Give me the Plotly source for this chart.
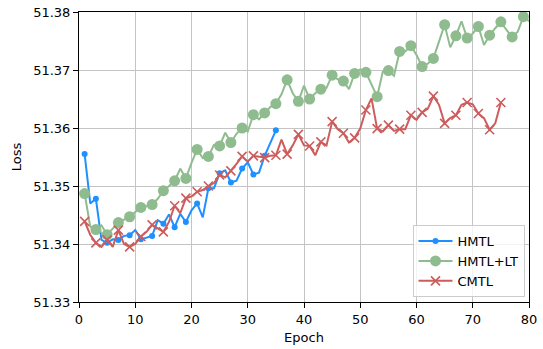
import plotly.graph_objects as go

# ---- data ----
hmtl_epochs = list(range(1, 36))
hmtl_loss = [51.3555, 51.3470, 51.3478, 51.3407, 51.3402, 51.3408, 51.3407, 51.3414, 51.3415, 51.3424,
             51.3408, 51.3411, 51.3414, 51.3441, 51.3435, 51.3451, 51.3429, 51.3452, 51.3438, 51.3458,
             51.3470, 51.3446, 51.3496, 51.3496, 51.3522, 51.3527, 51.3506, 51.3509, 51.3530, 51.3541,
             51.3520, 51.3523, 51.3552, 51.3574, 51.3596]

hmtl_lt_epochs = list(range(1, 81))
hmtl_lt_loss = [51.3487, 51.3430, 51.3425, 51.3432, 51.3416, 51.3427, 51.3437, 51.3442, 51.3447, 51.3455,
                51.3463, 51.3465, 51.3468, 51.3478, 51.3492, 51.3500, 51.3509, 51.3530, 51.3513, 51.3540,
                51.3563, 51.3548, 51.3551, 51.3571, 51.3569, 51.3592, 51.3575, 51.3590, 51.3600, 51.3594,
                51.3623, 51.3615, 51.3626, 51.3636, 51.3642, 51.3658, 51.3683, 51.3660, 51.3646, 51.3673,
                51.3650, 51.3660, 51.3667, 51.3669, 51.3691, 51.3684, 51.3681, 51.3667, 51.3694, 51.3701,
                51.3696, 51.3675, 51.3654, 51.3697, 51.3699, 51.3690, 51.3732, 51.3732, 51.3742, 51.3726,
                51.3706, 51.3711, 51.3720, 51.3749, 51.3778, 51.3739, 51.3759, 51.3784, 51.3755, 51.3763,
                51.3775, 51.3743, 51.3760, 51.3772, 51.3783, 51.3769, 51.3757, 51.3766, 51.3792, 51.3784]

cmtl_epochs = list(range(1, 76))
cmtl_loss = [51.3439, 51.3416, 51.3402, 51.3395, 51.3407, 51.3395, 51.3424, 51.3400, 51.3395, 51.3400,
             51.3413, 51.3421, 51.3433, 51.3427, 51.3421, 51.3438, 51.3466, 51.3453, 51.3479, 51.3482,
             51.3490, 51.3493, 51.3500, 51.3505, 51.3519, 51.3515, 51.3526, 51.3538, 51.3551, 51.3542,
             51.3552, 51.3550, 51.3549, 51.3552, 51.3553, 51.3580, 51.3555, 51.3570, 51.3589, 51.3570,
             51.3569, 51.3553, 51.3576, 51.3570, 51.3611, 51.3598, 51.3591, 51.3575, 51.3583, 51.3599,
             51.3631, 51.3651, 51.3599, 51.3594, 51.3605, 51.3595, 51.3598, 51.3598, 51.3622, 51.3614,
             51.3627, 51.3633, 51.3655, 51.3640, 51.3608, 51.3617, 51.3622, 51.3640, 51.3644, 51.3641,
             51.3625, 51.3617, 51.3597, 51.3608, 51.3644]

x_ticks = [0, 10, 20, 30, 40, 50, 60, 70, 80]
y_ticks = [51.33, 51.34, 51.35, 51.36, 51.37, 51.38]

series = [
    ("HMTL", hmtl_epochs, hmtl_loss, "#1E90FF", dict(symbol="circle", size=6)),
    ("HMTL+LT", hmtl_lt_epochs, hmtl_lt_loss, "#8FBC8F", dict(symbol="circle", size=11)),
    ("CMTL", cmtl_epochs, cmtl_loss, "#CD5C5C", dict(symbol="x-thin", size=9)),
]

fig = go.Figure()
for name, xs, ys, color, mk in series:
    mk_full = dict(mk, color=color, line=dict(color=color, width=1.6 if mk["symbol"] == "x-thin" else 0))
    fig.add_trace(go.Scatter(x=xs, y=ys, mode="lines", line=dict(color=color, width=2),
                             showlegend=False, legendgroup=name, hoverinfo="skip"))
    fig.add_trace(go.Scatter(x=xs[::2], y=ys[::2], mode="markers", marker=mk_full,
                             showlegend=False, legendgroup=name))
    fig.add_trace(go.Scatter(x=[None], y=[None], mode="lines+markers", name=name,
                             line=dict(color=color, width=2), marker=mk_full, legendgroup=name))

font = "DejaVu Sans"
axis_common = dict(showline=True, linecolor="black", linewidth=1, mirror=True,
                   ticks="outside", ticklen=5, tickcolor="black", tickwidth=1,
                   showgrid=True, gridcolor="#c4c4c4", gridwidth=1, zeroline=False,
                   automargin=False,
                   tickfont=dict(family=font, size=13, color="black"))

fig.update_layout(
    width=543, height=349,
    margin=dict(l=79, r=14, t=12, b=47),
    paper_bgcolor="white", plot_bgcolor="white",
    font=dict(family=font, size=13, color="black"),
    xaxis=dict(range=[0, 80], tickvals=x_ticks, ticktext=[str(v) for v in x_ticks],
               title=dict(text="Epoch", font=dict(family=font, size=13), standoff=7), **axis_common),
    yaxis=dict(range=[51.33, 51.38], tickvals=y_ticks, ticktext=[f"{v:.2f}" for v in y_ticks],
               title=dict(text="Loss", font=dict(family=font, size=13), standoff=8), **axis_common),
    legend=dict(x=0.99, y=0.017, xanchor="right", yanchor="bottom",
                bgcolor="rgba(255,255,255,0.8)", bordercolor="#cccccc", borderwidth=1,
                font=dict(family=font, size=13), tracegroupgap=0, itemwidth=34),
)

fig.write_html("out.html")
